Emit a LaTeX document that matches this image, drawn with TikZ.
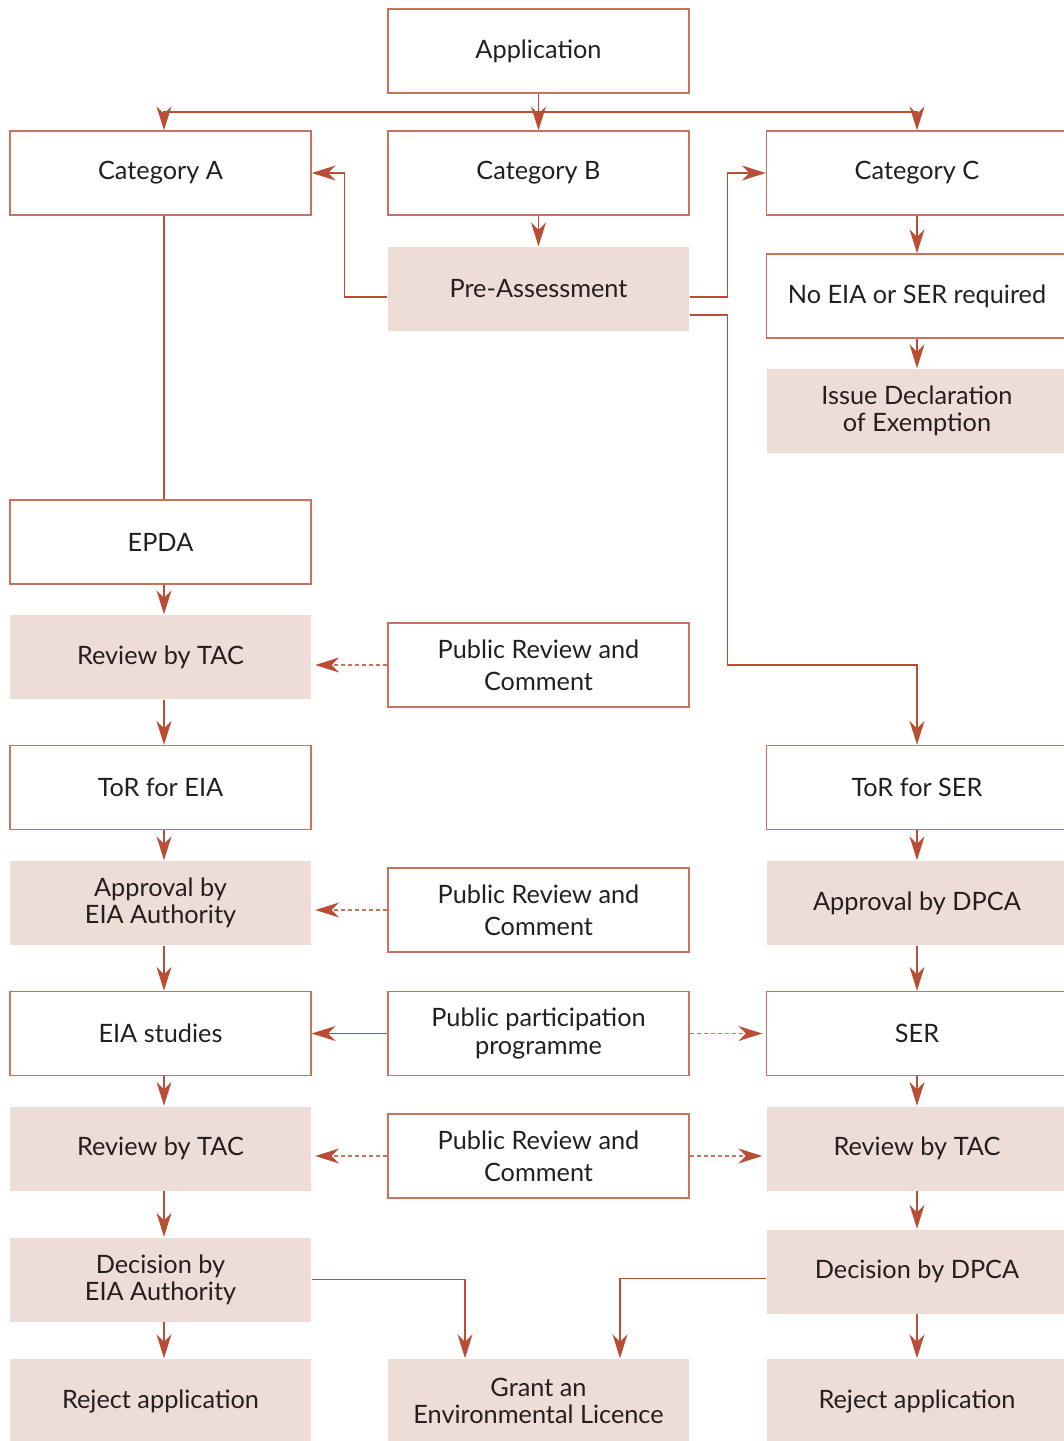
\documentclass[tikz,border=0pt]{standalone}
\usepackage{fontspec}
\setmainfont{Lato}
\usetikzlibrary{arrows.meta}
\definecolor{rust}{HTML}{B94E34}
\definecolor{edge}{HTML}{C8735E}
\definecolor{blush}{HTML}{EEDCD6}
\definecolor{ink}{HTML}{231F20}

\begin{document}
\begin{tikzpicture}[x=0.02cm, y=-0.02cm,
  box/.style={draw=edge, line width=0.8pt, minimum width=6.02cm, minimum height=1.68cm, align=center, text=ink, font=\fontsize{14.4}{15.5}\selectfont},
  shade/.style={box, draw=none, fill=blush},
  ln/.style={draw=rust, line width=0.8pt},
  arr/.style={ln, -{Stealth[length=4.8mm, width=3mm, inset=1.5mm, color=rust]}},
  dasharr/.style={arr, draw=edge, line width=0.9pt, dash pattern=on 2.5pt off 1.5pt, shorten >=2pt}]
  \useasboundingbox (0,0) rectangle (1063,1441);
  % top row
  \node[box] (app) at (538.5,51) {Application};
  \coordinate (split) at (538.5,112);
  \node[box] (catA) at (160.5,173) {Category A};
  \node[box] (catB) at (538.5,173) {Category B};
  \node[box] (catC) at (917,173) {Category C};
  \node[shade] (pre) at (538.5,289) {Pre-Assessment};
  \node[box] (noeia) at (917,296) {No EIA or SER required};
  \node[shade] (issue) at (917,411) {Issue Declaration\\of Exemption};
  % left column
  \node[box] (epda) at (160.5,542) {EPDA};
  \node[shade] (revA) at (160.5,657) {Review by TAC};
  \node[box] (torE) at (160.5,787.5) {ToR for EIA};
  \node[shade] (apprE) at (160.5,903) {Approval by\\EIA Authority};
  \node[box] (eia) at (160.5,1033.5) {EIA studies};
  \node[shade] (revB) at (160.5,1148.5) {Review by TAC};
  \node[shade] (decE) at (160.5,1279.5) {Decision by\\EIA Authority};
  \node[shade] (rejA) at (160.5,1401) {Reject application};
  % middle column
  \node[box] (prc1) at (538.5,665) {Public Review and\\[2.6pt]Comment};
  \node[box] (prc2) at (538.5,910) {Public Review and\\[2.6pt]Comment};
  \node[box] (ppp) at (538.5,1033.5) {Public participation\\programme};
  \node[box] (prc3) at (538.5,1156) {Public Review and\\[2.6pt]Comment};
  \node[shade] (grant) at (538.5,1401) {Grant an\\Environmental Licence};
  % right column
  \node[box] (torS) at (917,787.5) {ToR for SER};
  \node[shade] (apprD) at (917,903) {Approval by DPCA};
  \node[box] (ser) at (917,1033.5) {SER};
  \node[shade] (revC) at (917,1148.5) {Review by TAC};
  \node[shade] (decD) at (917,1271.5) {Decision by DPCA};
  \node[shade] (rejC) at (917,1401) {Reject application};

  % connectors
  \draw[ln] (app) -- (split);
  \draw[arr] (split) -- (catB);
  \draw[arr] (split) -| ([xshift=0.07cm]catA.north);
  \draw[arr] (split) -| (catC.north);
  \draw[arr] (catB) -- (pre);
  \draw[arr] ([yshift=-0.16cm]pre.west) -- ++(-43,0) |- (catA.east);
  \draw[arr] ([yshift=-0.16cm]pre.east) -- ++(38,0) |- (catC.west);
  \draw[arr] ([yshift=-0.52cm]pre.east) -- ++(38,0) |- (torS.north |- prc1.east) -- (torS.north);
  \draw[arr] (catC) -- (noeia);
  \draw[arr] (noeia) -- (issue);
  \draw[ln] ([xshift=0.07cm]catA.south) -- ([xshift=0.07cm]epda.north);
  \draw[arr] ([xshift=0.07cm]epda.south) -- ([xshift=0.07cm]revA.north);
  \draw[arr] ([xshift=0.07cm]revA.south) -- ([xshift=0.07cm]torE.north);
  \draw[arr] ([xshift=0.07cm]torE.south) -- ([xshift=0.07cm]apprE.north);
  \draw[arr] ([xshift=0.07cm]apprE.south) -- ([xshift=0.07cm]eia.north);
  \draw[arr] ([xshift=0.07cm]eia.south) -- ([xshift=0.07cm]revB.north);
  \draw[arr] ([xshift=0.07cm]revB.south) -- ([xshift=0.07cm]decE.north);
  \draw[arr] ([xshift=0.07cm]decE.south) -- ([xshift=0.07cm]rejA.north);
  \draw[arr] (torS) -- (apprD);
  \draw[arr] (apprD) -- (ser);
  \draw[arr] (ser) -- (revC);
  \draw[arr] (revC) -- (decD);
  \draw[arr] (decD) -- (rejC);
  \draw[dasharr] (prc1.west) -- (prc1.west -| revA.east);
  \draw[dasharr] (prc2.west) -- (prc2.west -| apprE.east);
  \draw[arr] (ppp) -- (eia);
  \draw[dasharr] (ppp) -- (ser);
  \draw[dasharr] (prc3.west) -- (prc3.west -| revB.east);
  \draw[dasharr] (prc3.east) -- (prc3.east -| revC.west);
  \draw[arr] (decE.east) -| ([xshift=-1.47cm]grant.north);
  \draw[arr] ([yshift=-0.14cm]decD.west) -| ([xshift=1.63cm]grant.north);
\end{tikzpicture}
\end{document}
